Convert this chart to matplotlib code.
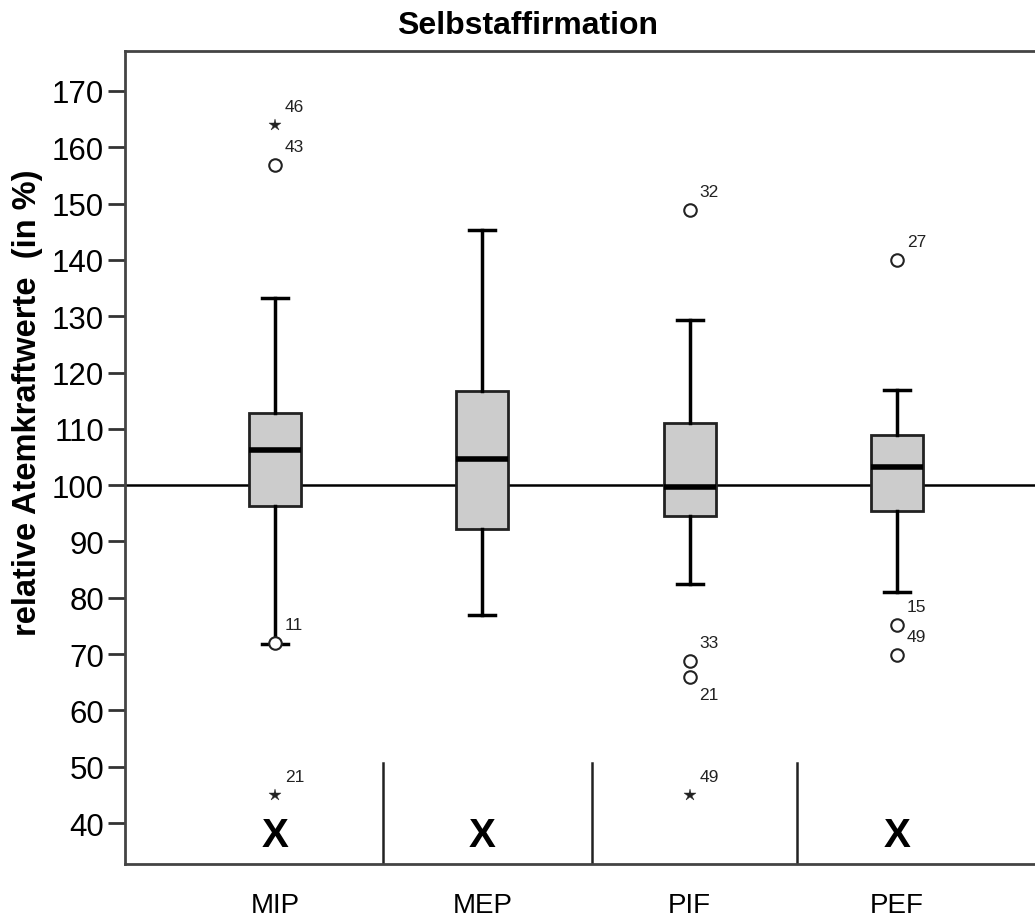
import matplotlib
matplotlib.use("Agg")
import matplotlib.pyplot as plt

# ---------------- data ----------------
categories = ["MIP", "MEP", "PIF", "PEF"]
whisker_low = [71.8, 77.0, 82.5, 81.0]
q1 = [96.3, 92.2, 94.5, 95.4]
median = [106.2, 104.6, 99.6, 103.3]
q3 = [112.8, 116.7, 111.0, 108.9]
whisker_high = [133.2, 145.4, 129.4, 116.9]

# outliers: (category index, value, case id, kind)  kind: 'o' mild, '*' extreme
outlier_cat = [0, 0, 0, 0, 2, 2, 2, 2, 3, 3, 3]
outlier_val = [163.9, 156.8, 71.9, 45.0, 148.8, 68.7, 65.9, 45.0, 139.9, 75.2, 69.8]
outlier_id = ["46", "43", "11", "21", "32", "33", "21", "49", "27", "15", "49"]
outlier_kind = ["*", "o", "o", "*", "o", "o", "o", "*", "o", "o", "o"]
label_below = [False, False, False, False, False, False, True, False, False, False, False]

x_marked = [0, 1, 3]          # categories carrying a bold "X"
x_mark_value = 37.9
divider_x = [1.52, 2.53, 3.52]
divider_top = 50.7
reference_value = 100
yticks = list(range(40, 171, 10))

# ---------------- figure ----------------
W, H = 1035, 920
fig = plt.figure(figsize=(W / 100, H / 100), dpi=100)
plt.rcParams['font.family'] = ['Liberation Sans', 'DejaVu Sans']

left_px, right_px, top_px, bot_px = 125, 1047, 52, 865
ax = fig.add_axes([left_px / W, 1 - bot_px / H,
                   (right_px - left_px) / W, (bot_px - top_px) / H])

positions = list(range(1, len(categories) + 1))
stats = []
for i, c in enumerate(categories):
    stats.append(dict(label=c, whislo=whisker_low[i], q1=q1[i], med=median[i],
                      q3=q3[i], whishi=whisker_high[i], fliers=[]))

ax.axhline(reference_value, color="black", lw=1.8, zorder=1)

ax.bxp(stats, positions=positions, widths=0.25, capwidths=0.125,
       patch_artist=True, showfliers=False,
       boxprops=dict(facecolor="#cccccc", edgecolor="#222222", linewidth=2.0),
       medianprops=dict(color="black", linewidth=4.0),
       whiskerprops=dict(color="black", linewidth=2.5),
       capprops=dict(color="black", linewidth=2.5),
       zorder=3)

# outliers
for c, v, lab, k, below in zip(outlier_cat, outlier_val, outlier_id, outlier_kind, label_below):
    xpos = positions[c]
    if k == "o":
        ax.plot(xpos, v, marker="o", ms=9, mfc="white", mec="#222222", mew=1.5, zorder=5)
    else:
        ax.plot(xpos, v, marker="*", ms=9, mfc="#222222", mec="#222222", mew=0.3, zorder=5)
    dy = -12.5 if below else 13.5
    ax.annotate(lab, (xpos, v), xytext=(7.0, dy), textcoords="offset points",
                ha="left", va="center", fontsize=12.5, color="#222222", zorder=6)

# divider lines
for dx in divider_x:
    ax.plot([dx, dx], [32.7, divider_top], color="#222222", lw=1.8, zorder=2)

# X markers
for c in x_marked:
    ax.text(positions[c], x_mark_value, "X", ha="center", va="center",
            fontsize=29, fontweight="bold", color="black", zorder=6)

ax.set_xlim(0.276, 4.724)
ax.set_ylim(32.72, 177.1)
ax.set_yticks(yticks)
ax.set_yticklabels([str(t) for t in yticks], fontsize=22.5)
ax.set_xticks(positions)
ax.set_xticklabels(categories, fontsize=20)
ax.tick_params(axis="y", length=12, width=2, color="#333333", pad=3)
ax.tick_params(axis="x", length=0, pad=20)

for side in ["left", "top", "bottom"]:
    ax.spines[side].set_linewidth(2)
    ax.spines[side].set_color("#444444")
ax.spines["right"].set_visible(False)

ax.set_ylabel("relative Atemkraftwerte  (in %)", fontsize=23.5, fontweight="bold")
ax.yaxis.set_label_coords((43 - left_px) / (right_px - left_px), (865 - 403) / (865 - 52))

fig.text(528 / W, 1 - 26 / H, "Selbstaffirmation", ha="center", va="center",
         fontsize=23, fontweight="bold")

fig.savefig("out.png", dpi=100)
